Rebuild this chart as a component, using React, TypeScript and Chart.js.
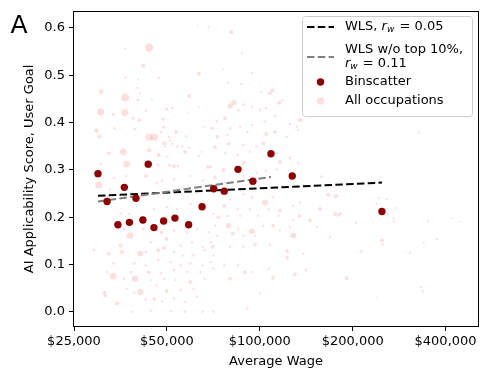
import React, { useEffect, useRef } from "react";
import { Chart, registerables } from "chart.js";

Chart.register(...registerables);

// ---------- data ----------
const xTickValues = [25000, 50000, 100000, 200000, 400000];
const yTickValues = [0, 0.1, 0.2, 0.3, 0.4, 0.5, 0.6];

const binWage = [29900, 32000, 34700, 36400, 37800, 39700, 41800, 43500, 45400, 48800, 53100, 58800, 65000, 70900, 76700, 85000, 95000, 108700, 127400, 248800];
const binScore = [0.292, 0.233, 0.184, 0.263, 0.189, 0.240, 0.194, 0.312, 0.178, 0.192, 0.198, 0.184, 0.222, 0.260, 0.255, 0.301, 0.276, 0.334, 0.287, 0.212];

const wlsWage = [29900, 248800];
const wlsScore = [0.245, 0.273];
const wlsTrimWage = [29900, 108700];
const wlsTrimScore = [0.233, 0.285];

const occWage = [
  43800, 36700, 63000, 68300, 41900, 63500, 36700, 47100, 40300, 30600, 40100, 40900, 36600, 40300, 44700, 59000, 30500, 36500, 33500, 42700,
  49900, 52100, 38800, 40700, 48700, 58200, 63600, 33800, 39400, 48800, 29600, 30200, 43800, 45500, 47900, 50700, 53500, 57700, 65800, 69400,
  49000, 51200, 49300, 52100, 54000, 56100, 59000, 32400, 36100, 43800, 47000, 50200, 57300, 63600, 64800, 37000, 30500, 46800, 51000, 52700,
  54400, 68000, 69400,
  80900, 87600, 76300, 94200, 79000, 87000, 110000, 107900, 101300, 82400, 80100, 115700, 118600, 88600, 94100, 100100, 104900, 112000, 85200, 77100,
  72600, 70300, 86300, 80100, 94200, 104000, 135000, 131700, 125300, 72900, 78700, 91200, 104900, 112000, 122600, 133300, 71600, 79200, 88600, 97600,
  102700, 113600, 77100, 84800, 92900, 125300, 133300, 88600, 116300, 327000,
  30100, 33800, 36900, 32400, 38300, 42700, 46300, 48300, 52700, 59600, 65300, 45500, 49900, 35400, 37700, 54000, 59600, 66200, 36300, 38000,
  41900, 48000, 52700, 58200, 62700, 68300, 35400, 44300, 49900, 55400, 60300, 65300, 69400, 32400, 35800, 41000, 42700, 46900, 49000, 52700,
  56500, 61000, 66200, 33600, 39200, 42700, 46900, 51400, 55400, 59600, 65200, 69400, 32000, 38300, 43600, 47900, 52700, 58200, 64200, 33500,
  39400, 36300, 44300, 49000, 53300, 59600, 66200, 37200, 41000, 39200, 46300, 49900, 55400, 61000, 31200, 31600, 34400, 42700, 45500, 48300,
  52700, 57300, 62700, 38600, 44300, 51400, 57300, 65300,
  76300, 71600, 88600, 97600, 104900, 113600, 158500, 80100, 88600, 94200, 104000, 110400, 76700, 84800, 92900, 106800, 116300, 128400, 135000, 156700,
  166600, 176600, 175400, 179600, 70800, 73400, 78700, 86300, 98700, 115000, 134400, 145400, 128400, 71600, 79200, 85200, 94100, 102700, 110400, 125300,
  153500, 72600, 81700, 88600, 96500, 128400, 116300, 70300, 80100, 88600, 96500, 107900, 122600, 138300, 168900, 122600, 70800, 76700, 84800, 89500,
  94100, 106800, 130000, 140900, 80100, 70800, 110400, 191100, 100100, 91200, 70800,
  181900, 205000, 243500, 257500, 239400, 277800, 259700, 271700, 273000, 351000, 419000, 445000, 248600, 250000, 340000, 375000, 213700, 306700, 332800, 337000,
  239400, 29000, 31500, 32700,
];
const occScore = [
  0.558, 0.556, 0.605, 0.601, 0.520, 0.503, 0.495, 0.494, 0.491, 0.465, 0.473, 0.462, 0.453, 0.447, 0.449, 0.456, 0.422, 0.421, 0.417, 0.425,
  0.428, 0.431, 0.409, 0.405, 0.407, 0.422, 0.432, 0.388, 0.386, 0.390, 0.383, 0.370, 0.369, 0.369, 0.380, 0.370, 0.380, 0.371, 0.391, 0.388,
  0.356, 0.362, 0.349, 0.355, 0.349, 0.349, 0.347, 0.335, 0.338, 0.341, 0.331, 0.327, 0.338, 0.329, 0.338, 0.312, 0.313, 0.310, 0.310, 0.308,
  0.308, 0.306, 0.306,
  0.591, 0.547, 0.512, 0.505, 0.484, 0.482, 0.468, 0.462, 0.465, 0.442, 0.435, 0.442, 0.447, 0.438, 0.433, 0.426, 0.430, 0.414, 0.426, 0.409,
  0.403, 0.388, 0.391, 0.388, 0.395, 0.402, 0.405, 0.391, 0.397, 0.370, 0.374, 0.380, 0.376, 0.380, 0.370, 0.384, 0.348, 0.355, 0.353, 0.349,
  0.356, 0.335, 0.335, 0.332, 0.338, 0.325, 0.314, 0.315, 0.317, 0.379,
  0.268, 0.283, 0.287, 0.242, 0.252, 0.287, 0.273, 0.277, 0.280, 0.287, 0.277, 0.217, 0.221, 0.207, 0.207, 0.217, 0.228, 0.217, 0.175, 0.161,
  0.175, 0.168, 0.172, 0.168, 0.175, 0.168, 0.140, 0.147, 0.154, 0.140, 0.147, 0.137, 0.147, 0.123, 0.126, 0.123, 0.126, 0.130, 0.135, 0.126,
  0.119, 0.119, 0.130, 0.102, 0.102, 0.098, 0.109, 0.105, 0.098, 0.102, 0.098, 0.105, 0.084, 0.084, 0.084, 0.081, 0.088, 0.084, 0.084, 0.075,
  0.070, 0.070, 0.067, 0.070, 0.067, 0.063, 0.070, 0.049, 0.042, 0.040, 0.056, 0.044, 0.046, 0.049, 0.040, 0.035, 0.018, 0.026, 0.027, 0.022,
  0.028, 0.021, 0.032, 0.000, 0.002, 0.001, 0.000, 0.000,
  0.300, 0.284, 0.287, 0.294, 0.298, 0.301, 0.286, 0.238, 0.249, 0.242, 0.231, 0.242, 0.224, 0.217, 0.217, 0.217, 0.214, 0.224, 0.231, 0.217,
  0.247, 0.244, 0.207, 0.203, 0.207, 0.200, 0.203, 0.203, 0.203, 0.203, 0.202, 0.193, 0.193, 0.182, 0.182, 0.175, 0.170, 0.182, 0.182, 0.179,
  0.179, 0.161, 0.165, 0.161, 0.161, 0.161, 0.172, 0.137, 0.137, 0.137, 0.142, 0.142, 0.128, 0.123, 0.158, 0.114, 0.119, 0.098, 0.098, 0.084,
  0.084, 0.091, 0.079, 0.088, 0.070, 0.091, 0.072, 0.071, 0.039, 0.007, 0.000,
  0.207, 0.188, 0.240, 0.238, 0.228, 0.219, 0.207, 0.198, 0.191, 0.191, 0.198, 0.191, 0.151, 0.142, 0.146, 0.153, 0.128, 0.125, 0.052, 0.044,
  0.030, 0.130, 0.042, 0.259,
];
const occEmp = [
  1200, 60, 60, 80, 300, 300, 100, 100, 60, 400, 100, 80, 1100, 150, 80, 300, 1000, 900, 150, 100,
  150, 100, 150, 200, 150, 60, 60, 120, 150, 150, 350, 300, 900, 900, 100, 100, 250, 100, 80, 80,
  300, 100, 100, 100, 100, 100, 100, 250, 800, 300, 300, 100, 250, 80, 80, 800, 100, 150, 150, 250,
  100, 250, 100,
  300, 80, 80, 80, 80, 80, 250, 250, 100, 500, 500, 300, 100, 100, 100, 100, 100, 100, 100, 250,
  100, 100, 100, 100, 100, 100, 300, 100, 100, 250, 100, 100, 250, 250, 100, 100, 250, 250, 100, 100,
  250, 100, 100, 100, 100, 100, 100, 250, 250, 80,
  900, 100, 100, 100, 100, 300, 100, 100, 100, 100, 100, 100, 100, 100, 100, 100, 100, 100, 100, 800,
  100, 250, 100, 100, 100, 100, 300, 100, 250, 100, 100, 100, 100, 250, 250, 600, 100, 250, 250, 100,
  100, 100, 100, 100, 100, 100, 100, 100, 100, 100, 100, 100, 100, 100, 250, 100, 100, 100, 100, 800,
  700, 100, 100, 100, 100, 250, 100, 100, 700, 100, 100, 250, 100, 100, 100, 250, 300, 100, 250, 100,
  100, 100, 100, 100, 100, 100, 100, 100,
  250, 250, 100, 100, 100, 100, 100, 100, 100, 100, 600, 100, 250, 100, 100, 100, 250, 100, 100, 300,
  250, 300, 300, 100, 100, 250, 100, 100, 100, 100, 250, 250, 100, 100, 500, 100, 600, 100, 250, 100,
  100, 100, 250, 100, 100, 600, 100, 250, 100, 100, 250, 100, 250, 100, 100, 250, 100, 100, 100, 250,
  100, 100, 250, 100, 250, 100, 250, 250, 100, 100, 100,
  250, 100, 80, 80, 100, 80, 100, 80, 80, 80, 60, 40, 250, 100, 80, 80, 100, 100, 80, 80,
  40, 100, 100, 100,
];

// ---------- styling ----------
const FONT = '"DejaVu Sans", sans-serif';
const FS = 13;
const OCC_COLOR = "rgba(240, 40, 40, 0.15)";
const BIN_COLOR = "#8b0000";
const GRAY = "#808080";
const DASH = [7.5, 3.3];

function empRadius(e: number) {
  return Math.max(0.8, 0.12 * Math.sqrt(e));
}

function drawRw(ctx: CanvasRenderingContext2D, x: number, y: number, value: string) {
  ctx.font = `italic ${FS}px ${FONT}`;
  ctx.fillText("r", x, y);
  x += ctx.measureText("r").width;
  ctx.font = `italic ${Math.round(FS * 0.7)}px ${FONT}`;
  ctx.fillText("w", x, y + 3);
  x += ctx.measureText("w").width + 1;
  ctx.font = `${FS}px ${FONT}`;
  ctx.fillText(" = " + value, x, y);
}

const framePlugin = {
  id: "frameAndLegend",
  afterDatasetsDraw(chart: any) {
    const { ctx, chartArea } = chart;
    const { left, right, top, bottom } = chartArea;
    ctx.save();
    // spines
    ctx.strokeStyle = "#000";
    ctx.lineWidth = 1;
    ctx.strokeRect(Math.round(left) - 0.5, Math.round(top) - 0.5, Math.round(right - left) + 1, Math.round(bottom - top) + 1);

    // legend box
    const bx = 302, by = 16, bw = 170, bh = 100;
    ctx.beginPath();
    (ctx as any).roundRect(bx + 0.5, by + 0.5, bw, bh, 3);
    ctx.fillStyle = "rgba(255,255,255,0.8)";
    ctx.fill();
    ctx.strokeStyle = "#cccccc";
    ctx.lineWidth = 1;
    ctx.stroke();

    const hx0 = 307, hx1 = 334, tx = 345;
    ctx.textBaseline = "middle";
    ctx.textAlign = "left";
    ctx.fillStyle = "#000";

    // WLS
    ctx.setLineDash(DASH);
    ctx.lineWidth = 2;
    ctx.strokeStyle = "#000";
    ctx.beginPath();
    ctx.moveTo(hx0, 27);
    ctx.lineTo(hx1, 27);
    ctx.stroke();
    ctx.font = `${FS}px ${FONT}`;
    ctx.fillText("WLS, ", tx, 27);
    drawRw(ctx, tx + ctx.measureText("WLS, ").width, 27, "0.05");

    // WLS w/o
    ctx.strokeStyle = GRAY;
    ctx.beginPath();
    ctx.moveTo(hx0, 57);
    ctx.lineTo(hx1, 57);
    ctx.stroke();
    ctx.setLineDash([]);
    ctx.font = `${FS}px ${FONT}`;
    ctx.fillText("WLS w/o top 10%,", tx, 49.5);
    drawRw(ctx, tx, 64, "0.11");

    // Binscatter
    ctx.fillStyle = BIN_COLOR;
    ctx.beginPath();
    ctx.arc(320.5, 82, 3.7, 0, Math.PI * 2);
    ctx.fill();
    ctx.fillStyle = "#000";
    ctx.font = `${FS}px ${FONT}`;
    ctx.fillText("Binscatter", tx, 82);

    // All occupations
    ctx.fillStyle = "rgba(240, 40, 40, 0.15)";
    ctx.beginPath();
    ctx.arc(320.5, 101, 3.7, 0, Math.PI * 2);
    ctx.fill();
    ctx.fillStyle = "#000";
    ctx.fillText("All occupations", tx, 101);

    // panel letter
    ctx.textBaseline = "alphabetic";
    ctx.font = `25px ${FONT}`;
    ctx.fillText("A", 10.5, 33);
    ctx.restore();
  },
};

export default function App() {
  const ref = useRef<HTMLCanvasElement | null>(null);

  useEffect(() => {
    document.body.style.margin = "0";
    const canvas = ref.current;
    if (!canvas) return;

    const occData = occWage.map((w, i) => ({ x: w, y: occScore[i] }));
    const binData = binWage.map((w, i) => ({ x: w, y: binScore[i] }));
    const wlsData = wlsWage.map((w, i) => ({ x: w, y: wlsScore[i] }));
    const wlsTrimData = wlsTrimWage.map((w, i) => ({ x: w, y: wlsTrimScore[i] }));

    const chart = new Chart(canvas, {
      type: "scatter",
      data: {
        datasets: [
          {
            label: "All occupations",
            data: occData,
            backgroundColor: OCC_COLOR,
            borderWidth: 0,
            pointRadius: (c: any) => empRadius(occEmp[c.dataIndex] ?? 100),
          },
          {
            label: "Binscatter",
            data: binData,
            backgroundColor: BIN_COLOR,
            borderWidth: 0,
            pointRadius: 3.7,
          },
          {
            label: "WLS w/o top 10%",
            data: wlsTrimData,
            showLine: true,
            borderColor: GRAY,
            borderWidth: 2,
            borderDash: DASH,
            pointRadius: 0,
          },
          {
            label: "WLS",
            data: wlsData,
            showLine: true,
            borderColor: "#000",
            borderWidth: 2,
            borderDash: DASH,
            pointRadius: 0,
          },
        ],
      },
      options: {
        animation: false,
        responsive: false,
        devicePixelRatio: 1,
        layout: { padding: { top: 10, right: 11, left: 0, bottom: 0 } },
        plugins: { legend: { display: false }, tooltip: { enabled: false } },
        scales: {
          x: {
            type: "logarithmic",
            min: 25000,
            max: 509500,
            afterBuildTicks: (s: any) => {
              s.ticks = xTickValues.map((v) => ({ value: v }));
            },
            afterFit: (s: any) => {
              s.height = 51;
            },
            ticks: {
              color: "#000",
              font: { family: FONT, size: FS },
              padding: 3,
              maxRotation: 0,
              autoSkip: false,
              callback: (v: any) => "$" + Number(v).toLocaleString("en-US"),
            },
            grid: { display: true, drawOnChartArea: false, drawTicks: true, tickLength: 5, tickColor: "#000", tickWidth: 1 },
            border: { display: false },
            title: {
              display: true,
              text: "Average Wage",
              color: "#000",
              font: { family: FONT, size: FS },
              padding: { top: 0, bottom: 8 },
            },
          },
          y: {
            type: "linear",
            min: -0.03,
            max: 0.634,
            afterBuildTicks: (s: any) => {
              s.ticks = yTickValues.map((v) => ({ value: v }));
            },
            afterFit: (s: any) => {
              s.width = 74;
            },
            ticks: {
              color: "#000",
              font: { family: FONT, size: FS },
              padding: 4,
              autoSkip: false,
              callback: (v: any) => Number(v).toFixed(1),
            },
            grid: { display: true, drawOnChartArea: false, drawTicks: true, tickLength: 5, tickColor: "#000", tickWidth: 1 },
            border: { display: false },
            title: {
              display: true,
              text: "AI Applicability Score, User Goal",
              color: "#000",
              font: { family: FONT, size: FS },
              padding: { top: 22, bottom: 0 },
            },
          },
        },
      } as any,
      plugins: [framePlugin],
    });
    return () => chart.destroy();
  }, []);

  return (
    <div style={{ width: 489, height: 377, background: "#fff" }}>
      <canvas ref={ref} width={489} height={377} style={{ display: "block" }} />
    </div>
  );
}
